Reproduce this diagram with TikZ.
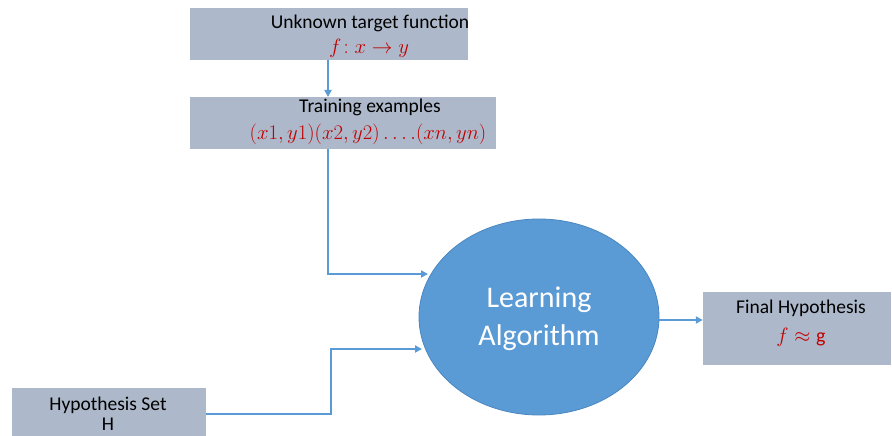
\documentclass[tikz,border=0pt]{standalone}
\usepackage{fontspec}
\setmainfont{Carlito}
\usetikzlibrary{shapes.geometric,arrows.meta}
\definecolor{boxfill}{HTML}{ADB9CA}
\definecolor{ellfill}{HTML}{5B9BD5}
\definecolor{elledge}{HTML}{4A86BF}
\definecolor{arr}{HTML}{5B9BD5}
\definecolor{mred}{HTML}{C00000}
\tikzset{
  grbox/.style={fill=boxfill, draw=none, inner sep=0pt},
  lbl/.style={font=\fontsize{19.5}{21}\selectfont, inner sep=0pt, align=center},
  conn/.style={draw=arr, line width=2.2pt, -{Triangle[length=7pt,width=7pt]}},
  mth/.style={text=mred, font=\fontsize{20}{22}\selectfont, inner sep=0pt}
}
\begin{document}
\begin{tikzpicture}[x=1pt,y=-1pt]
\useasboundingbox (0,0) rectangle (892,436);
% boxes
\node[grbox, minimum width=278pt, minimum height=52pt] (tf) at (329,34) {};
\node[lbl] (tft) at (370,23) {Unknown target function};
\node[mth] (tfm) at (369,48) {$f\!:x \rightarrow y$};

\node[grbox, minimum width=306pt, minimum height=52pt] (te) at (343,123) {};
\node[lbl] (tet) at (370,107) {Training examples};
\node[mth] (tem) at (368,134) {$(x1,y1)(x2,y2)\ldots.(xn,yn)$};

\node[ellipse, fill=ellfill, draw=elledge, line width=0.8pt, minimum width=240pt, minimum height=196pt, inner sep=0pt] (la) at (539,317) {};
\node[text=white, font=\fontsize{30}{38}\selectfont, align=center] (lat) at (539,319) {Learning\\Algorithm};

\node[grbox, minimum width=188pt, minimum height=73pt] (fh) at (797,328) {};
\node[lbl] (fht) at (801,308) {Final Hypothesis};
\node[mth] (fhm) at (801,337) {$f \approx \mathrm{g}$};

\node[grbox, minimum width=194pt, minimum height=52pt] (hs) at (109,414) {};
\node[lbl] (hst) at (108,405) {Hypothesis Set};
\node[lbl] (hsh) at (108,424) {H};

% connectors
\coordinate (c1) at (328,97);
\coordinate (t1) at (328,274);
\coordinate (e1) at (428,274);
\coordinate (h1) at (331,414);
\coordinate (h2) at (331,349);
\coordinate (e2) at (422,349);
\draw[conn] (tf.south -| c1) -- (c1);
\draw[conn] (te.south -| c1) -- (t1) -- (e1);
\draw[conn] (hs.east |- h1) -- (h1) -- (h2) -- (e2);
\draw[conn] (la.east |- 0,320) -- (fh.west |- 0,320);
\end{tikzpicture}
\end{document}
